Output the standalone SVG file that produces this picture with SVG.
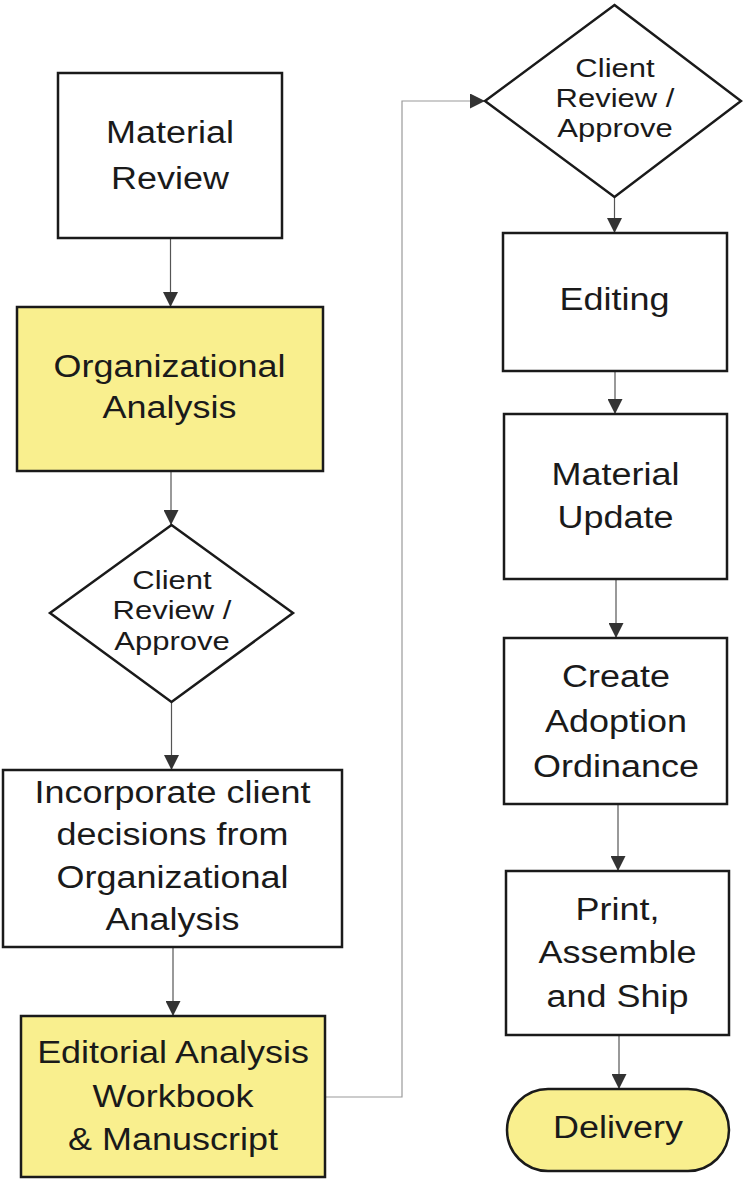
<svg xmlns="http://www.w3.org/2000/svg" width="743" height="1181" viewBox="0 0 743 1181">
<style>
.box{fill:#ffffff;stroke:#1a1a1a;stroke-width:2.5}
.hl{fill:#f9ef8e;stroke:#1a1a1a;stroke-width:2.5}
.lbl{font-family:"Liberation Sans",Arial,sans-serif;font-size:31px;fill:#1a1a1a;text-anchor:middle}
.dlbl{font-family:"Liberation Sans",Arial,sans-serif;font-size:26.5px;fill:#1a1a1a;text-anchor:middle}
.conn{fill:none;stroke:#555555;stroke-width:1.2}
.loop{fill:none;stroke:#9a9a9a;stroke-width:1.2}
</style>
<defs>
<marker id="ah" viewBox="0 0 14 14" refX="14" refY="7" markerWidth="15" markerHeight="15" markerUnits="userSpaceOnUse" orient="auto">
<path d="M0,0 L14,7 L0,14 z" fill="#333333"/>
</marker>
</defs>
<g id="connectors">
<line class="conn" x1="170.5" y1="238" x2="170.5" y2="307" marker-end="url(#ah)"/>
<line class="conn" x1="171" y1="471" x2="171" y2="525" marker-end="url(#ah)"/>
<line class="conn" x1="171.5" y1="702" x2="171.5" y2="770" marker-end="url(#ah)"/>
<line class="conn" x1="173" y1="947" x2="173" y2="1016" marker-end="url(#ah)"/>
<polyline class="loop" points="325,1097 402,1097 402,101 485,101" marker-end="url(#ah)"/>
<line class="conn" x1="614.5" y1="197" x2="614.5" y2="233" marker-end="url(#ah)"/>
<line class="conn" x1="615" y1="371" x2="615" y2="414" marker-end="url(#ah)"/>
<line class="conn" x1="616" y1="579" x2="616" y2="638" marker-end="url(#ah)"/>
<line class="conn" x1="618" y1="804" x2="618" y2="871" marker-end="url(#ah)"/>
<line class="conn" x1="619" y1="1035" x2="619" y2="1089" marker-end="url(#ah)"/>
</g>
<g id="material-review">
<rect class="box" x="58" y="73" width="224" height="165"/>
<text class="lbl" transform="translate(170,0) scale(1.16,1)"><tspan x="0" y="143">Material</tspan><tspan x="0" y="189">Review</tspan></text>
</g>
<g id="organizational-analysis">
<rect class="hl" x="17" y="307" width="306" height="164"/>
<text class="lbl" transform="translate(169.5,0) scale(1.16,1)"><tspan x="0" y="377">Organizational</tspan><tspan x="0" y="418">Analysis</tspan></text>
</g>
<g id="client-review-1">
<polygon class="box" points="171.5,525 293,613 171.5,702 50,613"/>
<text class="dlbl" transform="translate(172,0) scale(1.17,1)"><tspan x="0" y="589">Client</tspan><tspan x="0" y="619.5">Review /</tspan><tspan x="0" y="650">Approve</tspan></text>
</g>
<g id="incorporate">
<rect class="box" x="3" y="770" width="339" height="177"/>
<text class="lbl" transform="translate(172.5,0) scale(1.16,1)"><tspan x="0" y="803">Incorporate client</tspan><tspan x="0" y="845">decisions from</tspan><tspan x="0" y="888">Organizational</tspan><tspan x="0" y="930">Analysis</tspan></text>
</g>
<g id="editorial-analysis">
<rect class="hl" x="21" y="1016" width="304" height="161"/>
<text class="lbl" transform="translate(173,0) scale(1.16,1)"><tspan x="0" y="1063">Editorial Analysis</tspan><tspan x="0" y="1107">Workbook</tspan><tspan x="0" y="1150">&amp; Manuscript</tspan></text>
</g>
<g id="client-review-2">
<polygon class="box" points="614.5,5 741,101 614.5,197 485,101"/>
<text class="dlbl" transform="translate(615,0) scale(1.17,1)"><tspan x="0" y="77">Client</tspan><tspan x="0" y="107">Review /</tspan><tspan x="0" y="137">Approve</tspan></text>
</g>
<g id="editing">
<rect class="box" x="503" y="233" width="224" height="138"/>
<text class="lbl" transform="translate(614.5,0) scale(1.16,1)"><tspan x="0" y="310">Editing</tspan></text>
</g>
<g id="material-update">
<rect class="box" x="504" y="414" width="223" height="165"/>
<text class="lbl" transform="translate(615.5,0) scale(1.16,1)"><tspan x="0" y="485">Material</tspan><tspan x="0" y="528">Update</tspan></text>
</g>
<g id="create-adoption-ordinance">
<rect class="box" x="504" y="638" width="223" height="166"/>
<text class="lbl" transform="translate(616,0) scale(1.16,1)"><tspan x="0" y="687">Create</tspan><tspan x="0" y="732">Adoption</tspan><tspan x="0" y="777">Ordinance</tspan></text>
</g>
<g id="print-assemble-ship">
<rect class="box" x="506" y="871" width="223" height="164"/>
<text class="lbl" transform="translate(617.5,0) scale(1.16,1)"><tspan x="0" y="920">Print,</tspan><tspan x="0" y="963">Assemble</tspan><tspan x="0" y="1007">and Ship</tspan></text>
</g>
<g id="delivery">
<rect class="hl" x="507" y="1089" width="222" height="82" rx="41" ry="41"/>
<text class="lbl" transform="translate(618,0) scale(1.16,1)"><tspan x="0" y="1138">Delivery</tspan></text>
</g>
</svg>
